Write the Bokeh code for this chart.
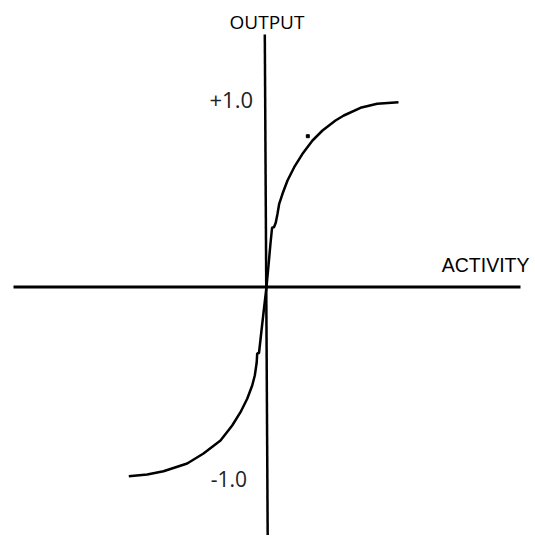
from bokeh.plotting import figure
from bokeh.models import Range1d
from bokeh.core.properties import value
from bokeh.embed import file_html
from bokeh.resources import INLINE

# Drawing coordinates (picture pixels, y grows downward)
upper_x = [266.0, 268.0, 269.8, 271.6, 273.5, 275.3, 277.0, 278.7, 282.0, 287.0, 293.7, 302.0, 312.0, 322.0, 335.0, 343.3, 360.0, 376.7, 398.0]
upper_y = [286.5, 265.0, 245.0, 227.0, 226.7, 222.0, 213.3, 203.3, 193.3, 180.0, 166.7, 153.3, 140.0, 130.0, 120.0, 115.0, 107.3, 103.3, 101.7]
lower_x = [266.0, 263.5, 261.0, 258.5, 256.7, 256.2, 254.3, 251.7, 246.7, 240.0, 231.7, 220.0, 203.0, 186.7, 163.0, 146.7, 128.3]
lower_y = [286.5, 308.0, 330.0, 352.5, 353.0, 362.0, 375.0, 385.0, 398.3, 411.7, 425.0, 440.0, 453.0, 463.0, 470.7, 474.0, 475.7]
vaxis_x = [264.3, 267.2]
vaxis_y = [34.0, 540.0]
haxis_x = [13.0, 520.0]
haxis_y = [286.5, 286.5]
dot_x = [307.3]
dot_y = [135.7]

W, H = 530, 535
p = figure(width=W, height=H, output_backend="svg", toolbar_location=None,
           x_range=Range1d(0, W), y_range=Range1d(H, 0),
           min_border=0, outline_line_color=None)
p.axis.visible = False
p.grid.visible = False
p.background_fill_color = "white"
p.border_fill_color = "white"

p.line(vaxis_x, vaxis_y, line_color="black", line_width=2.5)
p.line(haxis_x, haxis_y, line_color="black", line_width=3)
p.line(upper_x, upper_y, line_color="black", line_width=2.5)
p.line(lower_x, lower_y, line_color="black", line_width=2.5)
p.scatter(dot_x, dot_y, size=3, marker="square", color="black")

p.text(x=[266.5], y=[21.5], text=["OUTPUT"], text_font=value("Open Sans"),
       text_font_size="19px", text_align="center", text_baseline="middle", text_color="black")
p.text(x=[252.5], y=[99], text=["+1.0"], text_font=value("Open Sans"),
       text_font_size="22px", text_align="right", text_baseline="middle", text_color="#222222")
p.text(x=[246.5], y=[478.5], text=["-1.0"], text_font=value("Open Sans"),
       text_font_size="21px", text_align="right", text_baseline="middle", text_color="#222222")
p.text(x=[529], y=[264], text=["ACTIVITY"], text_font=value("Liberation Sans"),
       text_font_size="19.5px", text_align="right", text_baseline="middle", text_color="black")

open("out.html", "w").write(file_html(p, INLINE))
